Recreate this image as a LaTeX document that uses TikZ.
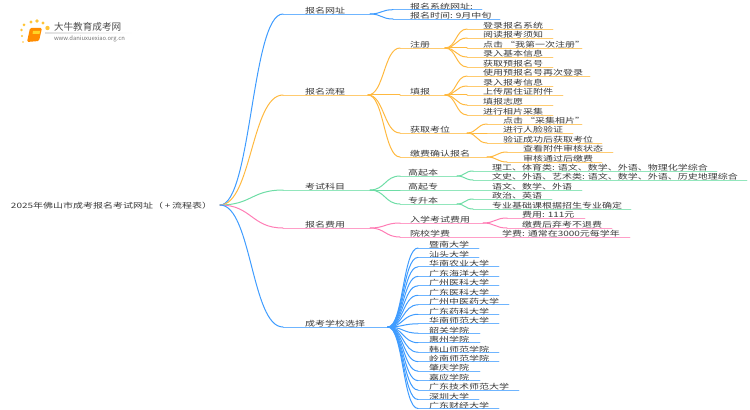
\documentclass[tikz,border=0pt]{standalone}
\usepackage{fontspec}
\setmainfont{Noto Sans CJK SC}
\usetikzlibrary{calc}
\definecolor{cblue}{HTML}{3F9CFF}
\definecolor{corange}{HTML}{FFB940}
\definecolor{cgreen}{HTML}{6EDDA6}
\definecolor{cpink}{HTML}{FF7DB5}
\definecolor{ctext}{HTML}{3A3A3A}
\tikzset{
  lbl/.style={inner sep=0pt,outer sep=0pt,text=ctext,anchor=west,font=\fontsize{7.5pt}{8pt}\selectfont},
  curve/.style={line width=0.75pt,line cap=round},
  under/.style={line width=0.7pt,opacity=0.75,line cap=round}
}
\newcommand{\squat}[1]{\scalebox{1}[0.74]{#1}}
% parent, name, x start, y, x end, text x, text
\newcommand{\mmb}[7]{%
  \coordinate (#2-s) at (#3,#4);
  \coordinate (#2-e) at (#5,#4);
  \coordinate (#2-m) at ($(#1)!0.5!(#2-s)$);
  \node[lbl] (#2) at (#6,#4-3) {\squat{#7}};
  \draw[curve,draw=\mmc] (#1) .. controls (#2-m |- #1) and (#2-m |- #2-s) .. (#2-s);
  \draw[under,draw=\mmc] (#2-s) -- (#2-e);
}
\begin{document}
\begin{tikzpicture}[x=0.75pt,y=-0.75pt]
\useasboundingbox (0,0) rectangle (750,410);
% logo
\foreach \a/\b/\r in {22/36/1.2,21.5/30/1.3,24/25/1.5,31/22/1.7,37/21/1.9,43/23/1.7,47.5/28/2.2,23/42/0.9}
  \fill[corange!85!yellow] (\a,\b) circle (\r);
\fill[orange!90!yellow,rounded corners=1pt] (30,28) -- (42,28) -- (39,41) -- (27,42) -- cycle;
\fill[corange!60!yellow] (33,31) -- (40,31) -- (39.5,34) -- (32.5,34) -- cycle;
\node[lbl,text=black!70] (logoA) at (54,27) {\fontsize{7.2pt}{8pt}\selectfont 大牛教育成考网};
\node[lbl,text=black!55] (logoB) at (54,39) {\fontsize{4.4pt}{5pt}\selectfont www.daniuxuexiao.org.cn};
\shade[left color=black!12,right color=white] (45,33) rectangle (133,33.6);
% root
\node[lbl] (root) at (11,205.5) {\squat{2025年佛山市成考报名考试网址（\,+\,流程表）}};
\coordinate (root-e) at (220,205);
% 报名网址
\def\mmc{cblue}
\mmb{root-e}{a}{283}{14}{370}{305}{报名网址}
\mmb{a-e}{a1}{393}{9.7}{482}{410}{报名系统网址:}
\mmb{a-e}{a2}{393}{19}{500}{410}{报名时间: 9月中旬}
% 报名流程
\def\mmc{corange}
\mmb{root-e}{b}{283}{95}{368}{305}{报名流程}
\mmb{b-e}{b1}{400}{48}{445}{410}{注册}
\mmb{b1-e}{b11}{467}{29}{553}{483}{登录报名系统}
\mmb{b1-e}{b12}{467}{38}{553}{483}{阅读报考须知}
\mmb{b1-e}{b13}{467}{48}{582}{483}{点击 “我第一次注册”}
\mmb{b1-e}{b14}{467}{57}{553}{483}{录入基本信息}
\mmb{b1-e}{b15}{467}{67}{553}{483}{获取预报名号}
\mmb{b-e}{b2}{400}{95}{445}{410}{填报}
\mmb{b2-e}{b21}{467}{76}{590}{483}{使用预报名号再次登录}
\mmb{b2-e}{b22}{467}{86}{553}{483}{录入报考信息}
\mmb{b2-e}{b23}{467}{95}{563}{483}{上传居住证附件}
\mmb{b2-e}{b24}{467}{105}{553}{483}{填报志愿}
\mmb{b2-e}{b25}{467}{115}{553}{483}{进行相片采集}
\mmb{b-e}{b3}{400}{133}{467}{410}{获取考位}
\mmb{b3-e}{b31}{487}{124}{582}{503}{点击 “采集相片”}
\mmb{b3-e}{b32}{487}{133}{573}{503}{进行人脸验证}
\mmb{b3-e}{b33}{487}{143}{602}{503}{验证成功后获取考位}
\mmb{b-e}{b4}{400}{157}{487}{410}{缴费确认报名}
\mmb{b4-e}{b41}{507}{152}{613}{523}{查看附件审核状态}
\mmb{b4-e}{b42}{507}{162}{602}{523}{审核通过后缴费}
% 考试科目
\def\mmc{cgreen}
\mmb{root-e}{c}{283}{190}{370}{305}{考试科目}
\mmb{c-e}{c1}{400}{176}{457}{408}{高起本}
\mmb{c1-e}{c11}{473}{171}{717}{492}{理工、体育类: 语文、数学、外语、物理化学综合}
\mmb{c1-e}{c12}{473}{180}{747}{492}{文史、外语、艺术类: 语文、数学、外语、历史地理综合}
\mmb{c-e}{c2}{400}{190}{582}{408}{高起专}
\node[lbl] (c21) at (492,187) {\squat{语文、数学、外语}};
\mmb{c-e}{c3}{400}{204}{457}{408}{专升本}
\mmb{c3-e}{c31}{473}{199}{552}{492}{政治、英语}
\mmb{c3-e}{c32}{473}{209}{631}{492}{专业基础课根据招生专业确定}
% 报名费用
\def\mmc{cpink}
\mmb{root-e}{d}{283}{228}{370}{305}{报名费用}
\mmb{d-e}{d1}{400}{223}{483}{410}{入学考试费用}
\mmb{d1-e}{d11}{507}{218}{585}{522}{费用: 111元}
\mmb{d1-e}{d12}{507}{228}{612}{522}{缴费后弃考不退费}
\mmb{d-e}{d2}{400}{237}{630}{410}{院校学费}
\node[lbl] (d21) at (502,234) {\squat{学费: 通常在3000元每学年}};
% 成考学校选择
\def\mmc{cblue}
\mmb{root-e}{e}{283}{327}{388}{305}{成考学校选择}
\mmb{e-e}{e01}{418}{248}{479}{429}{暨南大学}
\mmb{e-e}{e02}{418}{257.4}{479}{429}{汕头大学}
\mmb{e-e}{e03}{418}{266.9}{499}{429}{华南农业大学}
\mmb{e-e}{e04}{418}{276.4}{499}{429}{广东海洋大学}
\mmb{e-e}{e05}{418}{285.9}{499}{429}{广州医科大学}
\mmb{e-e}{e06}{418}{295.3}{499}{429}{广东医科大学}
\mmb{e-e}{e07}{418}{304.8}{509}{429}{广州中医药大学}
\mmb{e-e}{e08}{418}{314.3}{499}{429}{广东药科大学}
\mmb{e-e}{e09}{418}{323.8}{499}{429}{华南师范大学}
\mmb{e-e}{e10}{418}{333.2}{480}{429}{韶关学院}
\mmb{e-e}{e11}{418}{342.7}{480}{429}{惠州学院}
\mmb{e-e}{e12}{418}{352.2}{499}{429}{韩山师范学院}
\mmb{e-e}{e13}{418}{361.6}{499}{429}{岭南师范学院}
\mmb{e-e}{e14}{418}{371.1}{480}{429}{肇庆学院}
\mmb{e-e}{e15}{418}{380.6}{480}{429}{嘉应学院}
\mmb{e-e}{e16}{418}{390}{519}{429}{广东技术师范大学}
\mmb{e-e}{e17}{418}{399.5}{479}{429}{深圳大学}
\mmb{e-e}{e18}{418}{408.5}{499}{429}{广东财经大学}
\end{tikzpicture}
\end{document}
